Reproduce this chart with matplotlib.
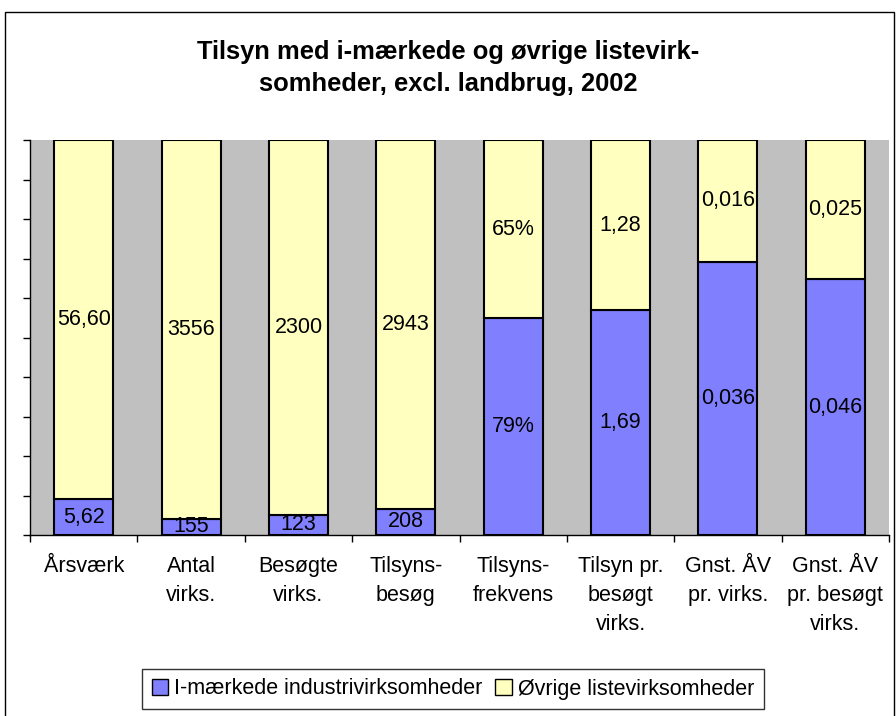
import matplotlib
matplotlib.use("Agg")
import matplotlib.pyplot as plt
from matplotlib.patches import Rectangle
import numpy as np

plt.rcParams['font.family'] = ['Liberation Sans', 'DejaVu Sans']

categories = ["Årsværk", "Antal\nvirks.", "Besøgte\nvirks.", "Tilsyns-\nbesøg",
              "Tilsyns-\nfrekvens", "Tilsyn pr.\nbesøgt\nvirks.", "Gnst. ÅV\npr. virks.",
              "Gnst. ÅV\npr. besøgt\nvirks."]
imaerkede = [5.62, 155, 123, 208, 79, 1.69, 0.036, 0.046]
oevrige = [56.60, 3556, 2300, 2943, 65, 1.28, 0.016, 0.025]
imaerkede_labels = ["5,62", "155", "123", "208", "79%", "1,69", "0,036", "0,046"]
oevrige_labels = ["56,60", "3556", "2300", "2943", "65%", "1,28", "0,016", "0,025"]
series_names = ["I-mærkede industrivirksomheder", "Øvrige listevirksomheder"]

W, H = 896, 716
fig = plt.figure(figsize=(W / 100, H / 100), dpi=100)
fig.patch.set_facecolor("white")

# outer chart border
fig.add_artist(Rectangle((5 / W, -0.05), (894 - 5) / W, 1 - 12 / H + 0.05,
                         transform=fig.transFigure, fill=False, edgecolor="black", lw=1.0))

ax = fig.add_axes([30 / W, 1 - 535 / H, (889 - 30) / W, (535 - 140) / H])
ax.set_facecolor("#C0C0C0")

a = np.array(imaerkede, dtype=float)
b = np.array(oevrige, dtype=float)
tot = a + b
pa = a / tot
pb = b / tot
x = np.arange(len(categories))

blue = "#8080FF"
yellow = "#FFFFC0"
fs = 15.5
bars_a = ax.bar(x, pa, width=0.55, color=blue, edgecolor="black", lw=1.5, label=series_names[0])
bars_b = ax.bar(x, pb, width=0.55, bottom=pa, color=yellow, edgecolor="black", lw=1.5, label=series_names[1])

for i in range(len(x)):
    ax.text(x[i], pa[i] / 2, imaerkede_labels[i], ha="center", va="center", fontsize=fs)
    ax.text(x[i], pa[i] + pb[i] / 2, oevrige_labels[i], ha="center", va="center", fontsize=fs)

ax.set_xlim(-0.5, len(x) - 0.5)
ax.set_ylim(0, 1)
ax.set_yticks(np.linspace(0, 1, 11))
ax.set_yticklabels([])
ax.set_xticks(np.arange(len(x) + 1) - 0.5)
ax.set_xticklabels([])
ax.tick_params(axis="both", direction="out", length=5, width=1, color="black")
for s in ["top", "right"]:
    ax.spines[s].set_visible(False)
for s in ["left", "bottom"]:
    ax.spines[s].set_color("black")
    ax.spines[s].set_linewidth(1)

for i, c in enumerate(categories):
    ax.text(x[i], -0.052, c, ha="center", va="top", fontsize=fs,
            linespacing=1.52, transform=ax.get_xaxis_transform())

fig.text(0.5, 1 - 52 / H, "Tilsyn med i-mærkede og øvrige listevirk-", ha="center", va="center",
         fontsize=18.4, fontweight="bold")
fig.text(0.5, 1 - 84 / H, "somheder, excl. landbrug, 2002", ha="center", va="center",
         fontsize=18.4, fontweight="bold")

leg = fig.legend(handles=[bars_a, bars_b], labels=series_names, loc="center",
                 bbox_to_anchor=(453 / W, 1 - 689 / H), ncol=2, fontsize=fs,
                 frameon=True, fancybox=False, edgecolor="black", handlelength=0.75,
                 handleheight=0.75, handletextpad=0.3, columnspacing=0.6, borderpad=0.45)
leg.get_frame().set_linewidth(1)
for h in leg.legend_handles:
    h.set_linewidth(1)

fig.savefig("out.png", dpi=100)
